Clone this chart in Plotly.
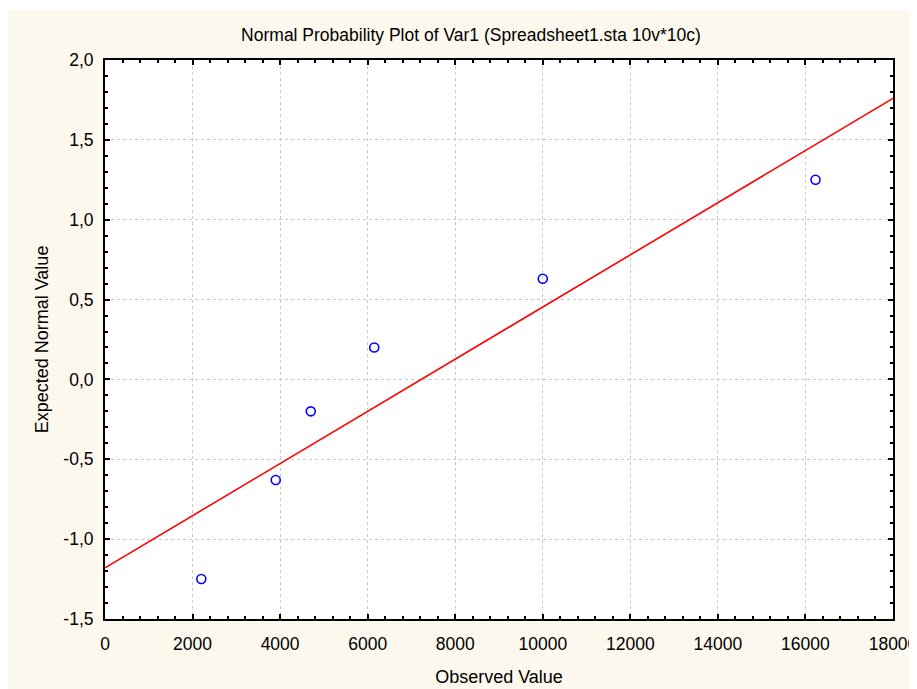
import plotly.graph_objects as go

# Data
observed = [2200, 3900, 4700, 6150, 10000, 16230]
expected = [-1.25, -0.63, -0.20, 0.20, 0.63, 1.25]
line_x = [0, 18000]
line_y = [-1.18, 1.76]

x_ticks = [0, 2000, 4000, 6000, 8000, 10000, 12000, 14000, 16000, 18000]
x_labels = ["0", "2000", "4000", "6000", "8000", "10000", "12000", "14000", "16000", "18000"]
y_ticks = [-1.5, -1.0, -0.5, 0.0, 0.5, 1.0, 1.5, 2.0]
y_labels = ["-1,5", "-1,0", "-0,5", "0,0", "0,5", "1,0", "1,5", "2,0"]

title_text = "Normal Probability Plot of Var1 (Spreadsheet1.sta 10v*10c)"
x_title = "Observed Value"
y_title = "Expected Normal Value"

FONT = "Liberation Sans, Arial, sans-serif"
CREAM = "#fdf8ee"

# figure sits at (8, 8) in the page because of the body margin
W, H = 909, 681
ML, MT, MR, MB = 97, 52, 24, 70
PW, PH = W - ML - MR, H - MT - MB

fig = go.Figure()
fig.add_trace(go.Scatter(x=line_x, y=line_y, mode="lines",
                         line=dict(color="#ff0000", width=1.6),
                         hoverinfo="skip", showlegend=False))
fig.add_trace(go.Scatter(x=observed, y=expected, mode="markers",
                         marker=dict(symbol="circle-open", size=9,
                                     color="#0000ff", line=dict(width=1.6)),
                         showlegend=False))

axis_common = dict(
    showline=True, linecolor="black", linewidth=2, mirror="allticks",
    ticks="inside", ticklen=5, tickwidth=1.5, tickcolor="black",
    showgrid=True, gridcolor="#c8c8c8", griddash="dot", gridwidth=1,
    zeroline=False, tickmode="array", ticklabeloverflow="allow",
    tickfont=dict(family=FONT, size=17.5, color="black"),
    title_font=dict(family=FONT, size=18, color="black"),
)

fig.update_xaxes(range=[0, 18000], tickvals=x_ticks, ticktext=x_labels,
                 ticklabelstandoff=8,
                 minor=dict(tickmode="linear", tick0=0, dtick=400, ticks="inside",
                            ticklen=3, tickcolor="black", showgrid=False),
                 title_text=x_title, title_standoff=17, **axis_common)
fig.update_yaxes(range=[-1.5, 2.0], tickvals=y_ticks, ticktext=y_labels,
                 ticklabelstandoff=6,
                 minor=dict(tickmode="linear", tick0=0, dtick=0.1, ticks="inside",
                            ticklen=3, tickcolor="black", showgrid=False),
                 title_text=y_title, title_standoff=10, **axis_common)

fig.update_layout(
    width=W, height=H,
    margin=dict(l=ML, r=MR, t=MT, b=MB, autoexpand=False),
    paper_bgcolor=CREAM, plot_bgcolor="white",
    font=dict(family=FONT, color="black"),
    title=dict(text=title_text, x=463 / W, xanchor="center",
               y=1 - 27 / H, yanchor="middle",
               font=dict(family=FONT, size=17.5, color="black")),
    shapes=[
        dict(type="rect", xref="paper", yref="paper",
             x0=-ML / PW - 0.01, x1=(W - ML) / PW + 0.01,
             y0=1 + (MT - 2) / PH, y1=1 + (MT + 2) / PH,
             fillcolor="white", line=dict(width=0), layer="below"),
    ],
)

fig.write_html("out.html")
